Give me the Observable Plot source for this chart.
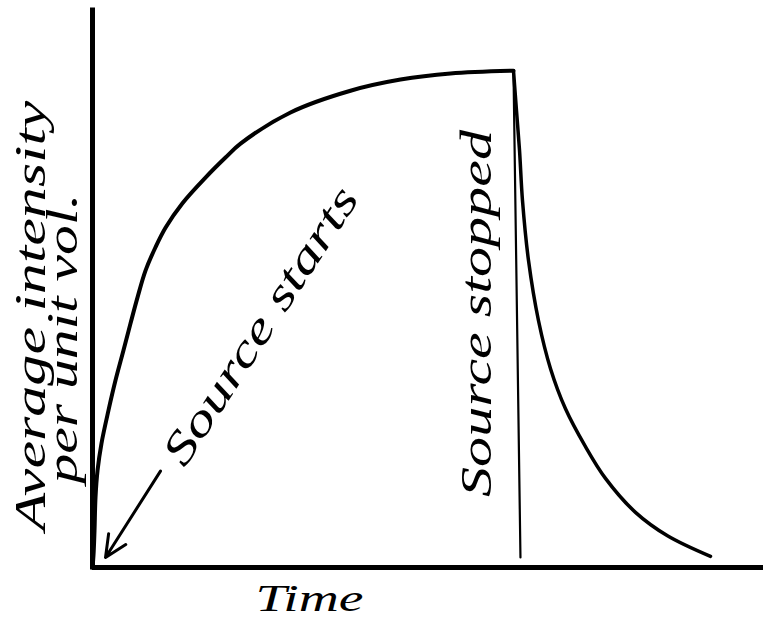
<!DOCTYPE html>
<html>
<head>
<meta charset="utf-8">
<script src="https://cdn.jsdelivr.net/npm/d3@7"></script>
<script src="https://cdn.jsdelivr.net/npm/@observablehq/plot@0.6"></script>
<style>
  html, body { margin: 0; padding: 0; background: #fff; }
  #chart svg { display: block; }
</style>
</head>
<body>
<div id="chart"></div>
<script>
// Growth while the source is on (time, intensity)
const riseTime = [0, 0.015, 0.030, 0.045, 0.075, 0.134, 0.238, 0.343, 0.462, 0.566, 0.671, 0.790, 0.939, 1.088, 1.341, 1.684, 1.982, 2.206, 2.951, 3.845, 4.590, 5.335, 6.274];
const riseIntensity = [0, 0.022, 0.066, 0.126, 0.174, 0.223, 0.282, 0.336, 0.390, 0.438, 0.485, 0.533, 0.575, 0.610, 0.654, 0.700, 0.736, 0.761, 0.817, 0.856, 0.876, 0.887, 0.892];

// Decay after the source is stopped
const decayTime = [6.274, 6.319, 6.364, 6.408, 6.498, 6.647, 6.826, 7.049, 7.347, 7.645, 8.092, 8.569, 9.210];
const decayIntensity = [0.892, 0.820, 0.749, 0.659, 0.551, 0.443, 0.357, 0.285, 0.217, 0.160, 0.099, 0.057, 0.020];

// Marker line at the moment the source stops
const stopTime = [6.274, 6.378];
const stopIntensity = [0.892, 0.018];

// Arrow pointing to the start
const arrowFrom = {t: 1.013, v: 0.173};
const arrowTo = {t: 0.194, v: 0.018};

// Texts
const labels = ["Average intensity", "per unit vol.", "Source starts", "Source stopped", "Time"];
const labelT = [-0.924, -0.447, 2.504, 5.723, 3.234];
const labelV = [0.452, 0.411, 0.434, 0.456, -0.056];
const labelRotate = [-90, -90, -57, -90, 0];

const rise = riseTime.map((t, i) => ({t, v: riseIntensity[i]}));
const decay = decayTime.map((t, i) => ({t, v: decayIntensity[i]}));
const stop = stopTime.map((t, i) => ({t, v: stopIntensity[i]}));
const texts = labels.map((text, i) => ({text, t: labelT[i], v: labelV[i], r: labelRotate[i]}));

const font = "'Liberation Serif', 'Times New Roman', serif";
const textLengths = {"Average intensity": 430, "per unit vol.": 290, "Source starts": 322, "Source stopped": 367, "Time": 108};
const fontSizes = {"Average intensity": 44, "per unit vol.": 44, "Source starts": 44, "Source stopped": 44, "Time": 38};

const textMarks = texts.map(d => Plot.text([d], {
  x: "t", y: "v", text: "text", rotate: d.r,
  fontSize: fontSizes[d.text], fontStyle: "italic", fontFamily: font,
  textAnchor: "middle", lineAnchor: "middle", fill: "black"
}));

const chart = Plot.plot({
  width: 763,
  height: 619,
  marginLeft: 92,
  marginRight: 0,
  marginTop: 10,
  marginBottom: 52,
  x: {domain: [0, 10], axis: null},
  y: {domain: [0, 1], axis: null},
  style: {background: "white"},
  marks: [
    Plot.ruleX([0], {y1: 0, y2: 1, stroke: "black", strokeWidth: 5, strokeLinecap: "square"}),
    Plot.ruleY([0], {x1: 0, x2: 10, stroke: "black", strokeWidth: 5}),
    Plot.line(rise, {x: "t", y: "v", curve: "catmull-rom", stroke: "black", strokeWidth: 4}),
    Plot.line(stop, {x: "t", y: "v", stroke: "black", strokeWidth: 2.2}),
    Plot.line(decay, {x: "t", y: "v", curve: "catmull-rom", stroke: "black", strokeWidth: 3.5}),
    Plot.arrow([{x1: arrowFrom.t, y1: arrowFrom.v, x2: arrowTo.t, y2: arrowTo.v}], {
      x1: "x1", y1: "y1", x2: "x2", y2: "y2", stroke: "black", strokeWidth: 3, headLength: 12, headAngle: 50, bend: 0
    }),
    ...textMarks
  ]
});

chart.querySelectorAll("text").forEach(el => {
  const L = textLengths[el.textContent];
  if (L) {
    el.style.fontFamily = font;
    el.style.fontStyle = "italic";
    el.setAttribute("textLength", L);
    el.setAttribute("lengthAdjust", "spacingAndGlyphs");
  }
});

document.getElementById("chart").appendChild(chart);
</script>
</body>
</html>
